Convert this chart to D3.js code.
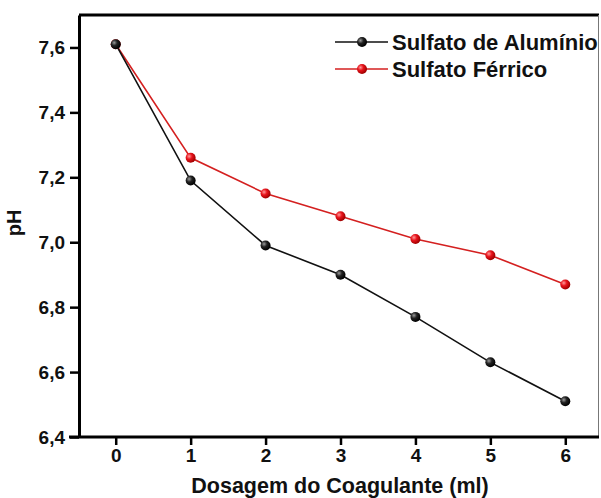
<!DOCTYPE html>
<html>
<head>
<meta charset="utf-8">
<script src="https://cdn.jsdelivr.net/npm/d3@7"></script>
<style>
  body { margin: 0; background: #fff; }
  text { font-family: Arial, "Liberation Sans", sans-serif; font-weight: bold; }
</style>
</head>
<body>
<div id="chart"></div>
<script>
const dosagem = [0, 1, 2, 3, 4, 5, 6];
const aluminio = [7.61, 7.19, 6.99, 6.90, 6.77, 6.63, 6.51];
const ferrico = [7.61, 7.26, 7.15, 7.08, 7.01, 6.96, 6.87];
const yTicks = [6.4, 6.6, 6.8, 7.0, 7.2, 7.4, 7.6];
const seriesNames = ["Sulfato de Alumínio", "Sulfato Férrico"];

const width = 601, height = 498;
const margin = { top: 15, right: 2, bottom: 61, left: 79 };

const svg = d3.select("#chart").append("svg")
  .attr("width", width)
  .attr("height", height);

const x = d3.scaleLinear().domain([-0.49, 6.45]).range([margin.left, width - margin.right]);
const y = d3.scaleLinear().domain([6.4, 7.7]).range([height - margin.bottom, margin.top]);

const fmt = d => d.toFixed(1).replace(".", ",");

// gradients for the little ball markers
const defs = svg.append("defs");
function ball(id, light, mid, dark) {
  const g = defs.append("radialGradient").attr("id", id)
    .attr("cx", "35%").attr("cy", "35%").attr("r", "65%");
  g.append("stop").attr("offset", "0%").attr("stop-color", light);
  g.append("stop").attr("offset", "45%").attr("stop-color", mid);
  g.append("stop").attr("offset", "100%").attr("stop-color", dark);
}
ball("gBlack", "#9a9a9a", "#222", "#000");
ball("gRed", "#ff9a9a", "#e8141c", "#a00000");

// frame: top and right
svg.append("line")
  .attr("x1", margin.left).attr("x2", width - margin.right)
  .attr("y1", margin.top).attr("y2", margin.top)
  .attr("stroke", "#000").attr("stroke-width", 3);
svg.append("line")
  .attr("x1", width - margin.right - 0.5).attr("x2", width - margin.right - 0.5)
  .attr("y1", margin.top).attr("y2", height - margin.bottom)
  .attr("stroke", "#777").attr("stroke-width", 1);

// axes
const xAxis = svg.append("g")
  .attr("transform", `translate(0,${height - margin.bottom})`)
  .call(d3.axisBottom(x).tickValues(dosagem).tickFormat(d3.format("d"))
    .tickSize(8).tickPadding(4).tickSizeOuter(0));
const yAxis = svg.append("g")
  .attr("transform", `translate(${margin.left},0)`)
  .call(d3.axisLeft(y).tickValues(yTicks).tickFormat(fmt)
    .tickSize(9).tickPadding(5).tickSizeOuter(0));

[xAxis, yAxis].forEach(a => {
  a.select(".domain").attr("stroke", "#000").attr("stroke-width", 3);
  a.selectAll(".tick line").attr("stroke", "#000").attr("stroke-width", 2.5);
  a.selectAll(".tick text").attr("fill", "#111").style("font-size", "19px");
});
xAxis.select(".domain").attr("d", `M${margin.left - 10},0H${width - margin.right}`);

// axis titles
svg.append("text")
  .attr("x", 340).attr("y", 493)
  .attr("text-anchor", "middle")
  .style("font-size", "21.5px")
  .attr("fill", "#111")
  .text("Dosagem do Coagulante (ml)");
svg.append("text")
  .attr("transform", "translate(21,223) rotate(-90)")
  .attr("text-anchor", "middle")
  .style("font-size", "20px")
  .attr("fill", "#111")
  .text("pH");

const series = [
  { name: seriesNames[1], values: ferrico, color: "#d42020", grad: "url(#gRed)" },
  { name: seriesNames[0], values: aluminio, color: "#111", grad: "url(#gBlack)" }
];

const line = d3.line().x((d, i) => x(dosagem[i])).y(d => y(d));

series.forEach(s => {
  svg.append("path")
    .attr("d", line(s.values))
    .attr("fill", "none")
    .attr("stroke", s.color)
    .attr("stroke-width", 1.6);
});
series.forEach(s => {
  svg.selectAll(null)
    .data(s.values)
    .join("circle")
    .attr("cx", (d, i) => x(dosagem[i]))
    .attr("cy", d => y(d))
    .attr("r", 5)
    .attr("fill", s.grad);
});

// legend
const legend = svg.append("g");
[series[1], series[0]].forEach((s, i) => {
  const ly = 42 + i * 27;
  legend.append("line")
    .attr("x1", 335).attr("x2", 388).attr("y1", ly).attr("y2", ly)
    .attr("stroke", s.color).attr("stroke-width", 1.6);
  legend.append("circle")
    .attr("cx", 362).attr("cy", ly).attr("r", 5)
    .attr("fill", s.grad);
  legend.append("text")
    .attr("x", 392).attr("y", ly + 8)
    .style("font-size", "22px")
    .attr("fill", "#111")
    .text(s.name);
});
</script>
</body>
</html>
